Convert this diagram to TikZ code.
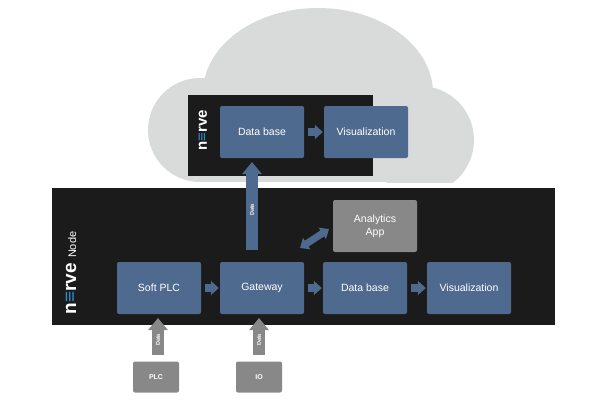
\documentclass[tikz,border=0pt]{standalone}
\usepackage{fontspec}
\setmainfont{Liberation Sans}
\usetikzlibrary{arrows.meta}
\definecolor{bx}{HTML}{4F6A8F}
\definecolor{blk}{HTML}{1B1B1B}
\definecolor{gr}{HTML}{888888}
\definecolor{cl}{HTML}{D9DADA}
\definecolor{lb}{HTML}{2A8FD0}
\begin{document}
\begin{tikzpicture}[x=1pt,y=-1pt,
  box/.style={fill=bx,rounded corners=2pt,minimum width=84pt,minimum height=52pt,text=white,font=\fontsize{10.5}{13}\selectfont,align=center,inner sep=0},
  gbox/.style={box,fill=gr},
  sbox/.style={fill=gr,rounded corners=2pt,minimum width=46pt,minimum height=31pt,text=white,font=\fontsize{7}{8}\selectfont\bfseries,inner sep=0},
  fa/.style={line width=8pt,-{Triangle[width=14pt,length=8pt]},shorten >=1pt, shorten <=4pt},
  da/.style={line width=12pt,-{Triangle[width=19pt,length=12pt]}},
  dl/.style={font=\fontsize{5.5}{6}\selectfont\bfseries,text=white,rotate=90}]
\useasboundingbox (0,0) rectangle (608,405);
% cloud
\begin{scope}
\clip (0,0) rectangle (608,182);
\fill[cl] (318,93) ellipse [x radius=115, y radius=85];
\fill[cl] (200,130) circle (52);
\fill[cl] (420,140) circle (54);
\fill[cl] (200,110) rectangle (420,182);
\end{scope}
% black panels
\fill[blk] (188,95) rectangle (373,176);
\fill[blk] (52,188) rectangle (555,325);
% logos
\node[rotate=90,text=white,font=\fontsize{15}{15}\selectfont\bfseries] (lg1) at (203,130) {n\textcolor{lb}{≡}rve};
\node[rotate=90,text=white,font=\fontsize{19}{19}\selectfont\bfseries,anchor=west] (lg2) at (71,318) {n\textcolor{lb}{≡}rve \fontsize{11}{11}\selectfont\mdseries Node};
% boxes
\node[box] (db1) at (262,132) {Data base};
\node[box] (vz1) at (366,132) {Visualization};
\node[box] (plc) at (159,288) {Soft PLC};
\node[box] (gw) at (262,288) {Gateway};
\node[box] (db2) at (365,288) {Data base};
\node[box] (vz2) at (469,288) {Visualization};
\node[gbox] (an) at (375,226) {Analytics\\App};
\node[sbox] (pl) at (156,377) {PLC};
\node[sbox] (io) at (259,377) {IO};
% arrows
\draw[fa,bx] (db1) -- (vz1);
\draw[fa,bx] (plc) -- (gw);
\draw[fa,bx] (gw) -- (db2);
\draw[fa,bx] (db2) -- (vz2);
\coordinate (gt) at (252,250);
\draw[bx,line width=12pt,-{Triangle[width=19pt,length=12pt]}] (gt) -- (252,162);
\node[dl] (d1) at (252,210) {Data};
\draw[bx,line width=7pt,{Triangle[width=13pt,length=8pt]}-{Triangle[width=13pt,length=8pt]}] (300,248) -- (329,229);
\draw[gr,da] (pl.north) ++(2,-6) -- (158,318);
\draw[gr,da] (io.north) ++(0,-6) -- (259,318);
\node[dl] (d2) at (158,340) {Data};
\node[dl] (d3) at (259,340) {Data};
\end{tikzpicture}
\end{document}
